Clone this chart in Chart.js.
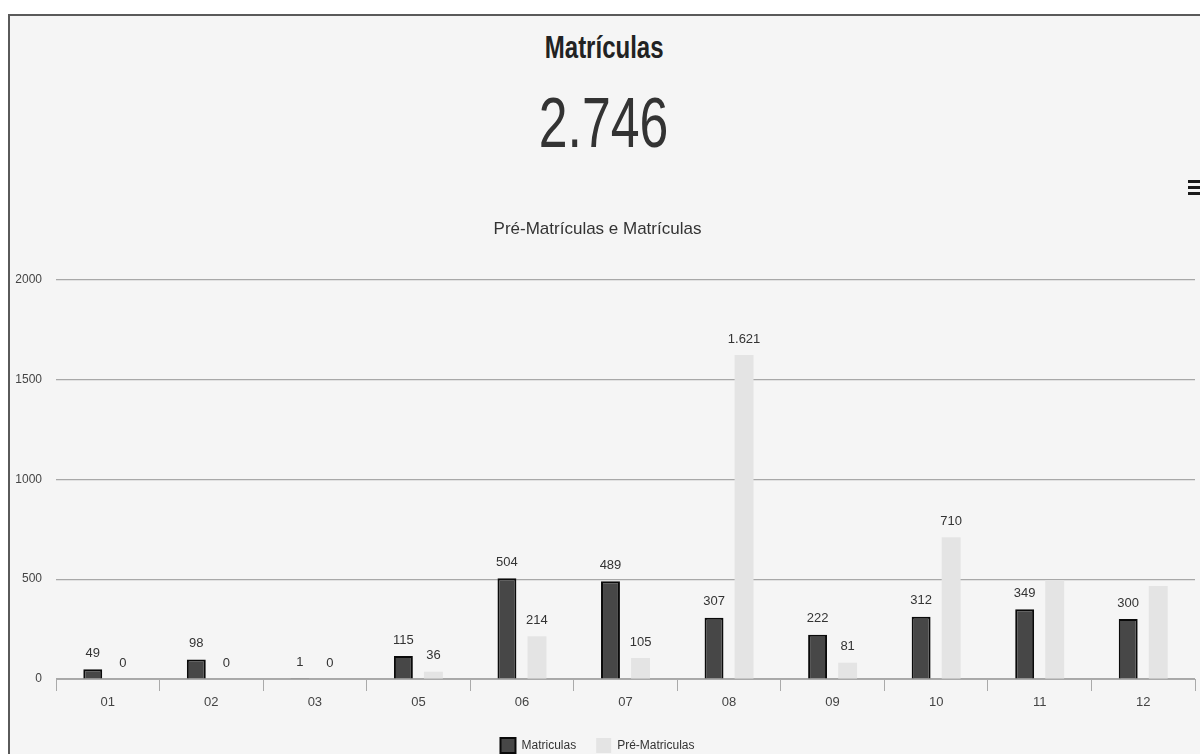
<!DOCTYPE html>
<html>
<head>
<meta charset="utf-8">
<script src="https://cdn.jsdelivr.net/npm/chart.js@4/dist/chart.umd.min.js"></script>
<style>
  html, body { margin:0; padding:0; width:1200px; height:754px; overflow:hidden; background:#ffffff; }
  #card { position:absolute; left:8px; top:14px; width:1300px; height:900px; border:2px solid #5a5a5a; background:#f5f5f5; box-sizing:border-box; }
  .head { position:absolute; left:0; width:1208px; text-align:center; color:#222; font-family:'Liberation Sans', Arial, sans-serif; white-space:nowrap; }
  .head span { display:inline-block; }
  #t1 { top:31px; font-size:32px; line-height:32px; font-weight:bold; }
  #t1 span { transform:scaleX(0.75); }
  #t2 { top:88px; font-size:70px; line-height:70px; color:#333; }
  #t2 span { transform:scaleX(0.74); }
  #menu { position:absolute; left:1188px; top:180px; width:16px; }
  #menu div { height:3px; background:#1a1a1a; margin-bottom:3px; }
  #cv { position:absolute; left:0; top:0; }
</style>
</head>
<body>
<div id="card"></div>
<div class="head" id="t1"><span>Matrículas</span></div>
<div class="head" id="t2"><span>2.746</span></div>
<div id="menu"><div></div><div></div><div></div></div>
<canvas id="cv" width="1200" height="770"></canvas>
<script>
const categories = ['01','02','03','05','06','07','08','09','10','11','12'];
const matriculas = [49, 98, 1, 115, 504, 489, 307, 222, 312, 349, 300];
const preMatriculas = [0, 0, 0, 36, 214, 105, 1621, 81, 710, 495, 465];
const yTicks = [0, 500, 1000, 1500, 2000];
const hiddenPreLabels = ['11', '12'];

const FONT = "'Liberation Sans', Arial, sans-serif";
const fmt = v => String(v).replace(/\B(?=(\d{3})+(?!\d))/g, '.');

const valueLabels = {
  id: 'valueLabels',
  afterDatasetsDraw(chart) {
    const ctx = chart.ctx;
    ctx.save();
    ctx.font = '13px ' + FONT;
    ctx.fillStyle = '#333333';
    ctx.textAlign = 'center';
    ctx.textBaseline = 'middle';
    chart.data.datasets.forEach((ds, di) => {
      const meta = chart.getDatasetMeta(di);
      meta.data.forEach((el, i) => {
        if (ds.hiddenLabels && ds.hiddenLabels.includes(categories[i])) return;
        ctx.fillText(fmt(ds.data[i]), el.x, el.y - 16);
      });
    });
    ctx.restore();
  }
};

new Chart(document.getElementById('cv'), {
  type: 'bar',
  data: {
    labels: categories,
    datasets: [
      { label: 'Matriculas', data: matriculas, backgroundColor: '#474747', borderColor: '#0a0a0a', borderWidth: 2,
        categoryPercentage: 0.58, barPercentage: 0.63 },
      { label: 'Pré-Matriculas', data: preMatriculas, backgroundColor: '#e4e4e4', borderWidth: 0,
        categoryPercentage: 0.58, barPercentage: 0.63, hiddenLabels: hiddenPreLabels }
    ]
  },
  options: {
    responsive: false,
    animation: false,
    layout: { padding: { top: 219, left: 0, right: 5, bottom: 7 } },
    plugins: {
      title: { display: true, text: 'Pré-Matrículas e Matrículas', color: '#333333',
        font: { family: FONT, size: 17, weight: 'normal' }, padding: { top: 0, bottom: 40 } },
      legend: { position: 'bottom',
        labels: { boxWidth: 15, boxHeight: 15, padding: 20, color: '#333333', font: { family: FONT, size: 12 } } },
      tooltip: { enabled: false }
    },
    scales: {
      x: {
        offset: true,
        grid: { offset: true, drawOnChartArea: false, drawTicks: true, tickLength: 12, color: '#aaaaaa' },
        border: { display: true, color: '#aaaaaa' },
        ticks: { color: '#444444', font: { family: FONT, size: 13 }, padding: 4 },
        afterFit(s) { s.height = 39; }
      },
      y: {
        min: 0, max: 2000,
        afterBuildTicks(s) { s.ticks = yTicks.map(v => ({ value: v })); },
        grid: { color: '#a8a8a8', lineWidth: 1.2, drawTicks: false },
        border: { display: false },
        ticks: { color: '#444444', font: { family: FONT, size: 12 }, padding: 14, callback: v => String(v) },
        afterFit(s) { s.width = 56; }
      }
    }
  },
  plugins: [valueLabels]
});
</script>
</body>
</html>
